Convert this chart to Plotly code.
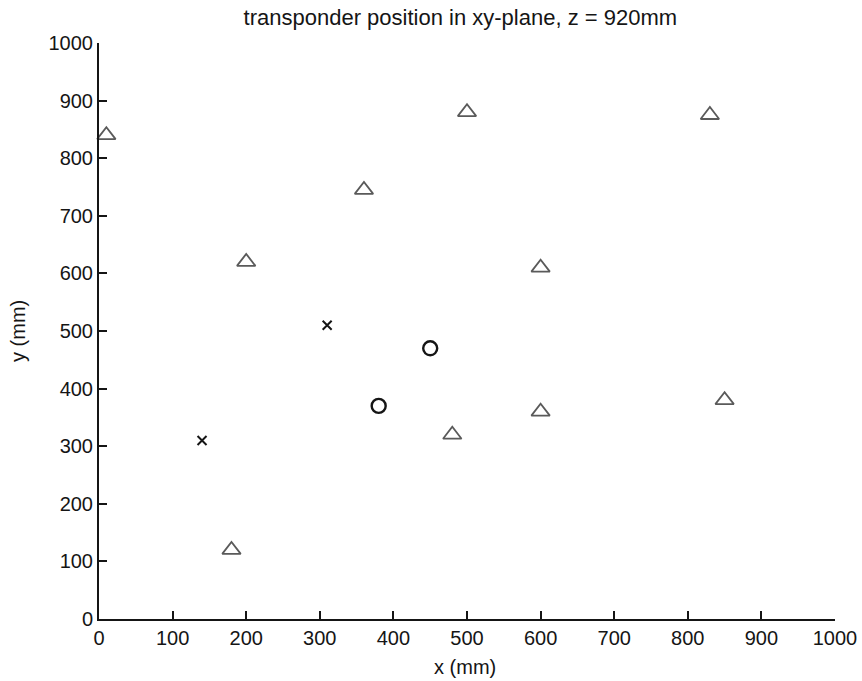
import plotly.graph_objects as go

tri_x = [10, 500, 830, 360, 200, 600, 480, 600, 850, 180]
tri_y = [840, 880, 875, 745, 620, 610, 320, 360, 380, 120]
cross_x = [140, 310]
cross_y = [310, 510]
circ_x = [450, 380]
circ_y = [470, 370]
ticks = [0, 100, 200, 300, 400, 500, 600, 700, 800, 900, 1000]

FONT = "Liberation Sans, Arial"
INK = "#151515"

# plot area in pixels: x 99..835, y 43..619
fig = go.Figure()
fig.add_trace(go.Scatter(x=tri_x, y=tri_y, mode="markers",
                         marker=dict(symbol="triangle-up-open", size=16, color="#5a5a5a",
                                     line=dict(width=1.8, color="#5a5a5a")),
                         showlegend=False, cliponaxis=False))
fig.add_trace(go.Scatter(x=cross_x, y=cross_y, mode="markers",
                         marker=dict(symbol="x-thin-open", size=9, color=INK,
                                     line=dict(width=2, color=INK)),
                         showlegend=False))
fig.add_trace(go.Scatter(x=circ_x, y=circ_y, mode="markers",
                         marker=dict(symbol="circle-open", size=14, color=INK,
                                     line=dict(width=2.4, color=INK)),
                         showlegend=False))

axis_common = dict(range=[0, 1000], tickvals=ticks, ticks="inside", ticklen=8, tickwidth=2,
                   tickcolor=INK, showline=True, linecolor=INK, linewidth=2,
                   showgrid=False, zeroline=False, mirror=False, automargin=False,
                   tickfont=dict(family=FONT, size=20, color=INK))

fig.update_layout(
    width=862, height=681,
    margin=dict(l=99, r=27, t=43, b=62),
    paper_bgcolor="white", plot_bgcolor="white",
    title=dict(text="transponder position in xy-plane, z = 920mm", x=0.534, xanchor="center",
               y=0.974, yanchor="middle",
               font=dict(family=FONT, size=22, color=INK)),
    xaxis=axis_common,
    yaxis=axis_common,
    annotations=[
        dict(text="x (mm)", xref="paper", yref="paper", x=0.497, y=(619 - 667) / 576,
             xanchor="center", yanchor="middle", showarrow=False,
             font=dict(family=FONT, size=20, color=INK)),
        dict(text="y (mm)", xref="paper", yref="paper", x=(18 - 99) / 736, y=0.5,
             xanchor="center", yanchor="middle", textangle=-90, showarrow=False,
             font=dict(family=FONT, size=20, color=INK)),
    ],
)
fig.write_html("out.html")
